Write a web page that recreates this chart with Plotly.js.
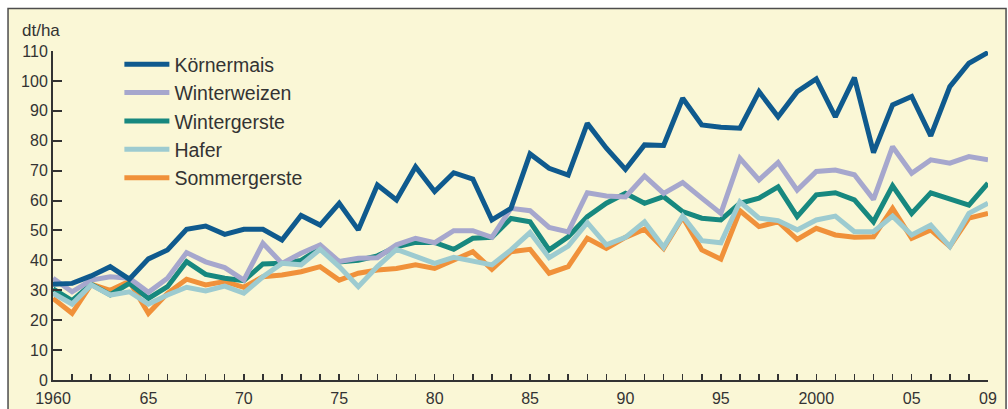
<!DOCTYPE html>
<html>
<head>
<meta charset="utf-8">
<script src="https://cdn.plot.ly/plotly-3.0.1.min.js"></script>
<style>
  html, body { margin: 0; padding: 0; background: #ffffff; }
  #chart { width: 1008px; height: 409px; }
</style>
</head>
<body>
<div id="chart"></div>
<script>
var years = [];
for (var y = 1960; y <= 2009; y++) years.push(y);

var koernermais = [
  32, 32.3, 34.8, 37.9, 33.7, 40.5, 43.5, 50.4, 51.5, 48.7,
  50.4, 50.4, 46.8, 55, 51.8, 59.1, 50.2, 65.2, 60.2, 71.3,
  63, 69.3, 67.2, 53.5, 57.4, 75.6, 70.8, 68.5, 85.8, 77.5,
  70.4, 78.6, 78.4, 94.2, 85.3, 84.5, 84.2, 96.4, 88, 96.4,
  100.7, 88, 101.1, 76, 92, 94.8, 81.6, 98.1, 105.9, 109.5
];
var winterweizen = [
  34, 29.5, 33.4, 34.5, 34, 29.3, 34, 42.6, 39.5, 37.6,
  33.4, 45.7, 39, 42.4, 45.2, 39.6, 40.7, 40.9, 45.2, 47.4,
  45.9, 49.9, 49.9, 47.7, 57.4, 56.6, 51, 49.5, 62.6, 61.5,
  61.2, 68.2, 62.4, 66, 60.8, 55.7, 74.1, 66.9, 72.7, 63.5,
  69.7, 70.2, 68.6, 60.4, 78, 69.1, 73.6, 72.5, 74.7, 73.6
];
var wintergerste = [
  30.5, 26.5, 32, 28.5, 32.3, 27.3, 31.2, 39.6, 35.3, 34,
  33.2, 38.8, 39, 40, 44, 39.5, 40, 41.5, 44.5, 46,
  46, 43.7, 47.4, 47.7, 54, 52.9, 43.5, 47.9, 54.6, 59.1,
  62.4, 59.1, 61.3, 56.3, 54.1, 53.5, 59.1, 60.8, 64.6, 54.6,
  61.9, 62.6, 60.2, 52.9, 64.9, 55.7, 62.6, 60.4, 58.5, 65.8
];
var hafer = [
  29, 25.4, 31.8, 28.4, 29.5, 25.4, 28.4, 31, 29.8, 31.4,
  29, 34.5, 39, 38.5, 43.7, 37.9, 31.2, 37.9, 43.7, 41.2,
  39, 41, 39.6, 38.5, 43.5, 49.3, 40.9, 44.8, 52.6, 45.2,
  47.7, 52.9, 44.4, 54.8, 46.6, 45.9, 59.6, 54.1, 53.3, 50.2,
  53.5, 54.8, 49.6, 49.6, 54.8, 48.5, 51.8, 44.6, 55.7, 59.1
];
var sommergerste = [
  27.3, 22.3, 32, 30, 33, 22.3, 29, 33.7, 31.8, 32.9,
  31, 34.5, 35.1, 36.2, 37.9, 33.4, 35.7, 36.8, 37.3, 38.5,
  37.3, 40.1, 42.9, 37, 42.9, 43.7, 35.7, 37.9, 47.4, 44,
  47.7, 50.4, 44, 54.4, 43.5, 40.4, 56.6, 51.3, 52.9, 47,
  50.7, 48.5, 47.7, 47.9, 57.4, 47.4, 50.2, 44.6, 54.1, 55.7
];

var xLabelYears = [1960, 1965, 1970, 1975, 1980, 1985, 1990, 1995, 2000, 2005, 2009];
var xLabelText  = ['1960', '65', '70', '75', '80', '85', '90', '95', '2000', '05', '09'];
var yTickVals = [0, 10, 20, 30, 40, 50, 60, 70, 80, 90, 100, 110];
var unitLabel = 'dt/ha';

var seriesNames = ['Körnermais', 'Winterweizen', 'Wintergerste', 'Hafer', 'Sommergerste'];
var seriesData = [koernermais, winterweizen, wintergerste, hafer, sommergerste];
var seriesColors = ['#0f5a8e', '#a6a7cd', '#17887f', '#9dcbd0', '#f0913a'];
var drawOrder = [4, 2, 1, 3, 0];

var traces = drawOrder.map(function (i) {
  return {
    x: years,
    y: seriesData[i],
    type: 'scatter',
    mode: 'lines',
    name: seriesNames[i],
    legendgroup: 'g' + i,
    legendrank: i + 1,
    line: { color: seriesColors[i], width: 5 },
    hoverinfo: 'x+y+name'
  };
});

var txt = '#333333';
var fontFam = 'Liberation Sans, Arial, sans-serif';

var layout = {
  width: 1008,
  height: 409,
  margin: { l: 53, r: 20, t: 51, b: 29, pad: 0 },
  paper_bgcolor: '#ffffff',
  plot_bgcolor: 'rgba(0,0,0,0)',
  font: { family: fontFam, size: 16, color: txt },
  showlegend: true,
  legend: {
    x: 0.071, y: 1.018, xanchor: 'left', yanchor: 'top',
    bgcolor: 'rgba(0,0,0,0)', borderwidth: 0,
    font: { family: fontFam, size: 19.5, color: txt },
    traceorder: 'grouped', tracegroupgap: 0,
    itemwidth: 45
  },
  xaxis: {
    range: [1960, 2009],
    tickmode: 'array',
    tickvals: xLabelYears,
    ticktext: xLabelText,
    ticks: 'inside', ticklen: 6, tickwidth: 1.5, tickcolor: txt,
    minor: { dtick: 1, tick0: 1960, ticks: 'inside', ticklen: 6, tickwidth: 1.5, tickcolor: txt, showgrid: false },
    showline: true, linewidth: 2, linecolor: txt,
    showgrid: false, zeroline: false,
    ticklabelstandoff: 3,
    tickfont: { family: fontFam, size: 16, color: txt },
    fixedrange: true
  },
  yaxis: {
    range: [0, 110],
    tickmode: 'array',
    tickvals: yTickVals,
    ticks: 'inside', ticklen: 9, tickwidth: 2, tickcolor: txt,
    showline: true, linewidth: 2, linecolor: txt,
    showgrid: false, zeroline: false,
    tickfont: { family: fontFam, size: 16, color: txt },
    fixedrange: true
  },
  shapes: [{
    type: 'rect', xref: 'paper', yref: 'paper', layer: 'below',
    x0: -0.0481, x1: 1.0193, y0: -0.15, y1: 1.1292,
    fillcolor: '#faf7d6', line: { color: '#4d4d4d', width: 1.5 }
  }],
  annotations: [{
    text: unitLabel, xref: 'paper', yref: 'paper',
    x: -0.035, y: 1.062, xanchor: 'left', yanchor: 'middle',
    showarrow: false, font: { family: fontFam, size: 17, color: txt }
  }]
};

Plotly.newPlot('chart', traces, layout, { displayModeBar: false, staticPlot: true });
</script>
</body>
</html>
